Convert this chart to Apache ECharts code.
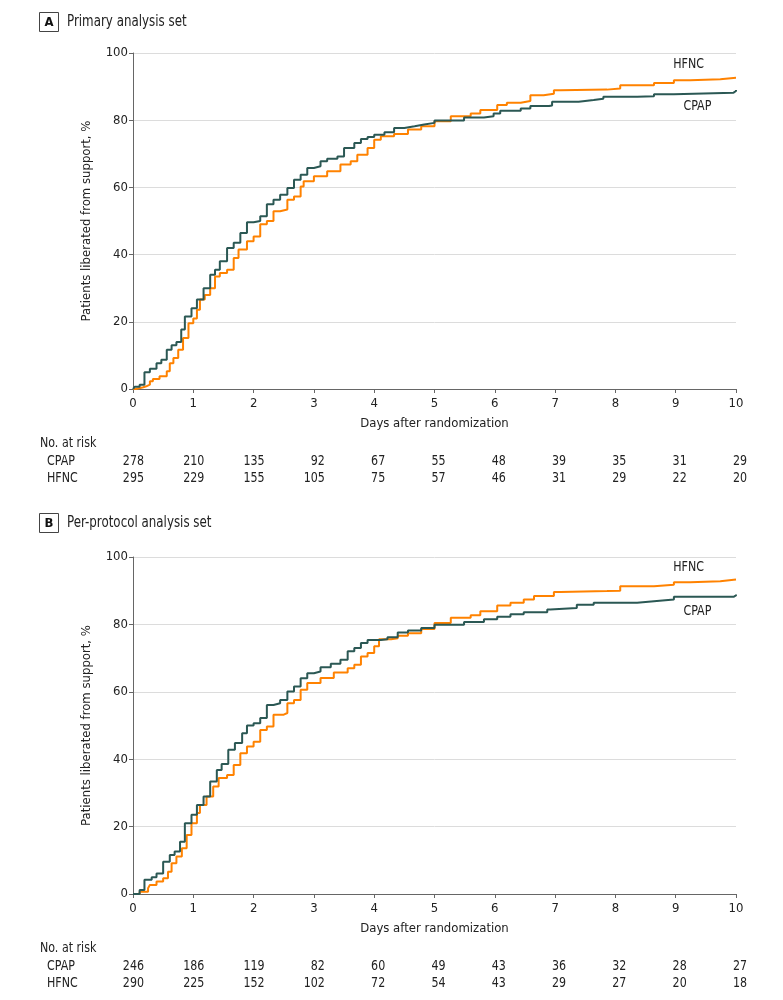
<!DOCTYPE html>
<html>
<head>
<meta charset="utf-8">
<script src="https://cdn.jsdelivr.net/npm/echarts@6/dist/echarts.min.js"></script>
<style>
html,body{margin:0;padding:0;background:#fff;}
#chart{width:783px;height:1000px;}
</style>
</head>
<body>
<div id="chart"></div>
<script>
// ---- Data ----
const dayTicks = [0,1,2,3,4,5,6,7,8,9,10];

const aCpap = [[0,0],[0.03,0.7],[0.11,1.3],[0.19,5],[0.28,6],[0.39,7.7],[0.47,8.7],[0.56,11.7],[0.64,13],[0.72,14],[0.8,17.7],[0.86,21.6],[0.97,24],[1.06,26.6],[1.17,30],[1.28,34],[1.36,35.5],[1.44,38],[1.56,42],[1.67,43.5],[1.78,46.4],[1.89,49.6],[2.0,50],[2.11,51.4],[2.22,55],[2.33,56.3],[2.44,57.8],[2.56,59.8],[2.67,62.3],[2.78,63.8],[2.89,65.8],[3.0,66.3],[3.11,67.8],[3.22,68.5],[3.39,69.2],[3.5,71.7],[3.67,73.2],[3.78,74.4],[3.89,75],[4.0,75.7],[4.17,76.4],[4.33,77.7],[4.5,78.2],[4.67,78.7],[4.83,79.2],[5.0,79.9],[5.49,80.8],[5.82,81.2],[5.98,82],[6.09,82.8],[6.43,83.5],[6.59,84.2],[6.9,84.4],[6.95,85.5],[7.39,86],[7.64,86.4],[7.8,87],[8.36,87.1],[8.64,87.7],[8.97,88.2],[9.96,88.7],[10,89]];

const aHfnc = [[0,0],[0.05,0.5],[0.17,0.8],[0.22,1.3],[0.28,2.3],[0.33,3],[0.44,3.8],[0.56,5.3],[0.61,7.7],[0.67,9.2],[0.75,11.7],[0.83,15.2],[0.92,19.6],[1.0,21],[1.06,23.6],[1.11,26.6],[1.19,28],[1.28,30],[1.36,33.5],[1.44,34.5],[1.56,35.5],[1.67,39],[1.75,41.5],[1.89,44],[2.0,45.4],[2.11,49],[2.22,50],[2.33,52.9],[2.44,53.4],[2.56,56.3],[2.67,57.3],[2.78,60.3],[2.83,61.8],[3.0,63.3],[3.22,64.8],[3.44,66.8],[3.61,67.8],[3.72,69.7],[3.89,71.7],[4.0,74.2],[4.11,75.2],[4.33,75.9],[4.56,77.2],[4.78,78.2],[5.0,79.7],[5.27,81.2],[5.6,82],[5.76,83],[6.04,84.5],[6.2,85.2],[6.43,85.7],[6.59,87.4],[6.81,87.9],[6.98,88.9],[7.09,89.1],[7.86,89.4],[8.08,90.4],[8.64,91.1],[8.97,91.9],[9.24,92.2],[9.74,92.6],[10,92.7]];

const bCpap = [[0,0],[0.11,1.2],[0.19,4.2],[0.31,5],[0.39,6.1],[0.5,9.6],[0.61,11.6],[0.69,12.6],[0.78,15.5],[0.86,21],[0.97,23.5],[1.06,26.4],[1.17,28.9],[1.28,33.4],[1.39,36.8],[1.47,38.6],[1.58,42.8],[1.69,44.8],[1.81,47.7],[1.89,50],[2.0,50.7],[2.11,52.2],[2.22,56.1],[2.33,56.6],[2.44,57.6],[2.56,60.1],[2.67,61.6],[2.78,64],[2.89,65.5],[3.0,66],[3.11,67.3],[3.28,68.3],[3.44,69.5],[3.56,72],[3.67,73],[3.78,74.5],[3.89,75.4],[4.11,75.6],[4.22,76.2],[4.39,77.6],[4.56,78.2],[4.78,78.9],[5.0,79.9],[5.49,80.7],[5.82,81.5],[6.04,82.3],[6.26,83],[6.48,83.6],[6.87,84.4],[6.92,84.9],[7.36,85.8],[7.64,86.4],[8.36,86.9],[8.64,87.4],[8.97,88.2],[9.96,88.6],[10,88.9]];

const bHfnc = [[0,0],[0.11,0.7],[0.25,1.7],[0.28,2.7],[0.39,3.7],[0.5,4.7],[0.58,6.6],[0.64,9.1],[0.72,11.1],[0.81,13.6],[0.89,17.5],[0.97,21],[1.06,24],[1.11,26.4],[1.22,28.9],[1.33,31.9],[1.42,34.4],[1.56,35.3],[1.67,38.3],[1.78,41.8],[1.89,43.8],[2.0,45.2],[2.11,48.7],[2.22,49.7],[2.33,53.2],[2.5,53.7],[2.56,56.6],[2.67,57.6],[2.78,60.6],[2.89,62.6],[3.11,64.1],[3.33,65.7],[3.56,67],[3.67,68],[3.78,70.5],[3.89,71.5],[4.0,73.5],[4.08,75.6],[4.28,75.9],[4.39,76.6],[4.56,77.4],[4.78,78.6],[5.0,80.4],[5.27,82],[5.6,82.7],[5.76,83.9],[6.04,85.6],[6.26,86.4],[6.48,87.4],[6.65,88.4],[6.98,89.6],[7.09,89.9],[7.86,90],[8.08,91.3],[8.64,91.8],[8.97,92.5],[9.24,92.8],[9.74,93.3],[10,93.5]];

const aRiskCpap = [278,210,135,92,67,55,48,39,35,31,29];
const aRiskHfnc = [295,229,155,105,75,57,46,31,29,22,20];
const bRiskCpap = [246,186,119,82,60,49,43,36,32,28,27];
const bRiskHfnc = [290,225,152,102,72,54,43,29,27,20,18];

const panelTitles = ['Primary analysis set','Per-protocol analysis set'];
const panelLetters = ['A','B'];
const groupNames = ['CPAP','HFNC'];

// ---- Style ----
const FONT = "'DejaVu Sans Condensed', 'DejaVu Sans', sans-serif";
const CPAP_COLOR = '#2b5854';
const HFNC_COLOR = '#ff8200';
const TXT = '#222';
const SX = 0.88; // horizontal condensing of annotation text

const chart = echarts.init(document.getElementById('chart'), null, {renderer:'canvas'});

function xAxisCfg(gi){
  return {
    type:'value', gridIndex:gi, min:0, max:10, interval:1,
    name:'Days after randomization', nameLocation:'middle', nameGap:28,
    nameTextStyle:{fontFamily:FONT,fontSize:13,color:TXT},
    axisLine:{show:true,lineStyle:{color:'#666',width:1}},
    axisTick:{show:true,length:4,lineStyle:{color:'#666'}},
    axisLabel:{fontFamily:FONT,fontSize:13,color:TXT,margin:8},
    splitLine:{show:false}
  };
}
function yAxisCfg(gi){
  return {
    type:'value', gridIndex:gi, min:0, max:100, interval:20,
    name:'Patients liberated from support, %', nameLocation:'middle', nameGap:40,
    nameTextStyle:{fontFamily:FONT,fontSize:13,color:TXT},
    axisLine:{show:true,lineStyle:{color:'#666',width:1}},
    axisTick:{show:true,length:4,lineStyle:{color:'#666'}},
    axisLabel:{fontFamily:FONT,fontSize:13,color:TXT,margin:5},
    splitLine:{show:true,lineStyle:{color:'#dcdcdc',width:1}}
  };
}
function lineSeries(gi, data, color, z){
  return {
    type:'line', xAxisIndex:gi, yAxisIndex:gi, data:data, step:'end',
    showSymbol:false, symbol:'none', z:z,
    lineStyle:{color:color,width:2}, itemStyle:{color:color}, animation:false
  };
}

chart.setOption({
  animation:false,
  grid:[
    {left:133, top:53, width:603, height:336},
    {left:133, top:557, width:603, height:337}
  ],
  xAxis:[xAxisCfg(0), xAxisCfg(1)],
  yAxis:[yAxisCfg(0), yAxisCfg(1)],
  series:[
    lineSeries(0, aHfnc, HFNC_COLOR, 2),
    lineSeries(0, aCpap, CPAP_COLOR, 3),
    lineSeries(1, bHfnc, HFNC_COLOR, 2),
    lineSeries(1, bCpap, CPAP_COLOR, 3)
  ]
});

// ---- Text annotations positioned through axes ----
const graphics = [];
const titleY = [22, 523];
const riskTables = [[aRiskCpap, aRiskHfnc],[bRiskCpap, bRiskHfnc]];
const riskBaseY = [443, 948];
const labelPos = [
  {hfnc:[9.24,96.5], cpap:[9.41,84.1]},
  {hfnc:[9.24,96.9], cpap:[9.41,83.8]}
];

function txt(x, y, s, size, align, extra){
  return Object.assign({type:'text', x:x, y:y, scaleX:SX,
    style:{text:s, fontFamily:FONT, fontSize:size, fill:TXT, align:align, verticalAlign:'middle'}}, extra||{});
}

for (let p=0;p<2;p++){
  // panel title box
  graphics.push({type:'rect', shape:{x:39.5,y:titleY[p]-9.5,width:19,height:19},
    style:{fill:'#fff',stroke:'#444',lineWidth:1}});
  graphics.push({type:'text', x:49, y:titleY[p]+0.5, style:{text:panelLetters[p], fontFamily:FONT,
    fontSize:13, fontWeight:'bold', fill:'#111', align:'center', verticalAlign:'middle'}});
  graphics.push(txt(67, titleY[p], panelTitles[p], 15, 'left'));

  // curve labels
  const h = chart.convertToPixel({xAxisIndex:p, yAxisIndex:p}, labelPos[p].hfnc);
  const c = chart.convertToPixel({xAxisIndex:p, yAxisIndex:p}, labelPos[p].cpap);
  graphics.push(txt(h[0]-17, h[1], 'HFNC', 14, 'left'));
  graphics.push(txt(c[0]-17, c[1], 'CPAP', 14, 'left'));

  // risk table
  graphics.push(txt(40, riskBaseY[p], 'No. at risk', 14, 'left'));
  const rowY = [riskBaseY[p] + 18, riskBaseY[p] + 35];
  for (let r=0;r<2;r++){
    graphics.push(txt(47, rowY[r], groupNames[r], 14, 'left'));
    const vals = riskTables[p][r];
    for (let i=0;i<dayTicks.length;i++){
      const px = chart.convertToPixel({xAxisIndex:p}, dayTicks[i]);
      graphics.push(txt(px+11, rowY[r], String(vals[i]), 14, 'right'));
    }
  }
}
chart.setOption({graphic:graphics});
</script>
</body>
</html>
